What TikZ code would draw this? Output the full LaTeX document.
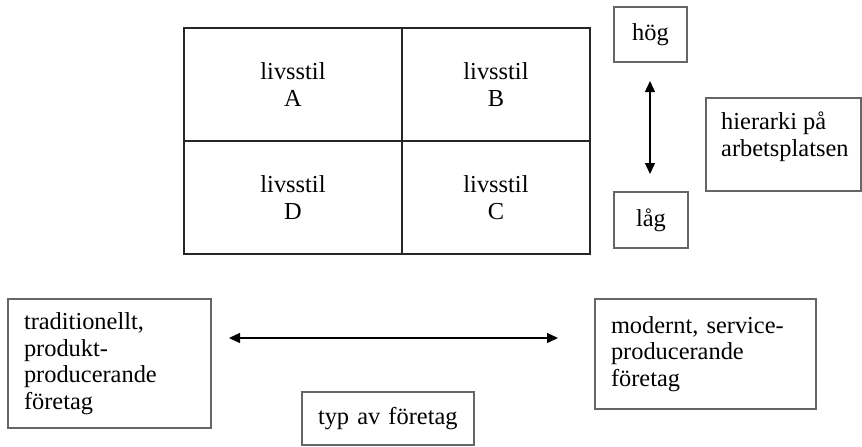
\documentclass[tikz,border=0pt]{standalone}
\usepackage{fontspec}
\setmainfont{Liberation Serif}
\usetikzlibrary{arrows.meta}
\begin{document}
\begin{tikzpicture}[x=1pt,y=-1pt,
  txt/.style={font=\fontsize{24.4}{26.5}\selectfont},
  cell/.style={txt,draw=black!85,line width=1.1pt,inner sep=0pt,outer sep=0pt,align=center,minimum height=113pt},
  box/.style={txt,draw=black!60,line width=1.2pt,inner ysep=0pt,inner xsep=16pt,outer sep=0pt,align=left},
  smallbox/.style={txt,draw=black!60,line width=1.2pt,inner sep=0pt,outer sep=0pt,align=center},
  arr/.style={line width=1.3pt,{Triangle[length=11pt,width=10pt]}-{Triangle[length=11pt,width=10pt]}}
]
\useasboundingbox[fill=white] (0,0) rectangle (862,447);
% grid
\node[cell,minimum width=218pt] (A) at (293,84.5) {livsstil\\A};
\node[cell,minimum width=188pt] (B) at (496,84.5) {livsstil\\B};
\node[cell,minimum width=218pt] (D) at (293,197.5) {livsstil\\D};
\node[cell,minimum width=188pt] (C) at (496,197.5) {livsstil\\C};
% vertical scale
\node[smallbox,minimum width=73pt,minimum height=55pt] (hog) at (650.5,34.5) {hög};
\node[smallbox,minimum width=74pt,minimum height=56pt] (lag) at (651,220) {låg};
\draw[arr,shorten <=19pt,shorten >=18pt] (hog.south -| 650,0) -- (lag.north -| 650,0);
\node[draw=black!60,line width=1.2pt,inner sep=0pt,minimum width=155pt,minimum height=93pt] (hier) at (783.5,144.5) {};
\node[txt,align=left,inner sep=0pt,anchor=north west] (hiertext) at (721,112) {hierarki på\\arbetsplatsen};
% horizontal scale
\node[box,text width=171pt,minimum height=129pt] (trad) at (109.5,363.5) {traditionellt,\\produkt-\\producerande\\företag};
\node[box,text width=189pt,minimum height=110pt] (mod) at (705.5,354) {modernt, service-\\producerande\\företag};
\draw[arr,shorten <=18pt,shorten >=37pt] (trad.east |- 0,338) -- (mod.west |- 0,338);
\node[box,text width=140pt,minimum height=53pt] (typ) at (388,418.5) {typ av företag};
\end{tikzpicture}
\end{document}
